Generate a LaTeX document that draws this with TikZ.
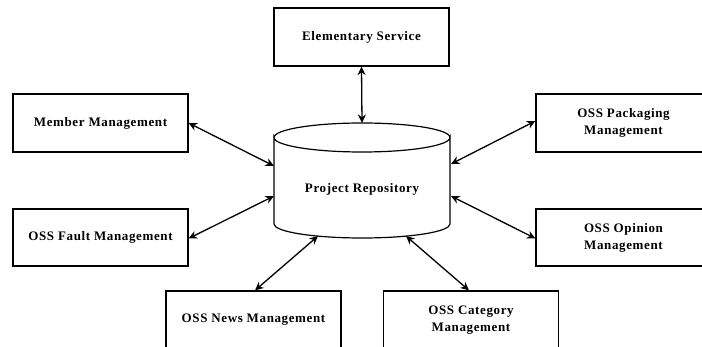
\documentclass[tikz,border=0pt]{standalone}
\usepackage{fontspec}
\setmainfont{Liberation Serif}
\newfontfamily\boxfont[LetterSpace=4.8]{Liberation Serif}
\usetikzlibrary{arrows.meta}
\begin{document}
\begin{tikzpicture}[x=1pt,y=-1pt,
  box/.style={draw, line width=1.2pt, minimum width=175pt, minimum height=58pt, inner sep=0pt,
    align=center, font=\boxfont\fontsize{13}{17}\selectfont\bfseries},
  link/.style={line width=1.3pt, {Stealth[length=8.5pt,width=8pt]}-{Stealth[length=8.5pt,width=8pt]}}]
\useasboundingbox (0,0) rectangle (702,347);
\clip (0,0) rectangle (702,347);
\fill[white] (0,0) rectangle (702,347);
% boxes
\node[box] (es) at (361.5,37) {Elementary Service};
\node[box] (mm) at (100.5,123) {Member Management};
\node[box, minimum height=57pt] (fm) at (100.5,237.5) {OSS Fault Management};
\node[box] (pm) at (623.5,123) {OSS Packaging\\Management};
\node[box, minimum height=57pt] (om) at (623.5,237.5) {OSS Opinion\\Management};
\node[box] (nm) at (253.5,320) {OSS News Management};
\node[box] (cm) at (471,320) {OSS Category\\Management};
% cylinder
\draw[line width=1.2pt, fill=white] (274,137.5) -- (274,224) arc[start angle=180, end angle=0, x radius=88, y radius=14] -- (450,137.5) arc[start angle=0, end angle=180, x radius=88, y radius=14.5] -- cycle;
\draw[line width=1.2pt] (274,137.5) arc[start angle=180, end angle=0, x radius=88, y radius=-14.5];
\node[font=\boxfont\fontsize{13}{17}\selectfont\bfseries] (pr) at (362,189) {Project Repository};
% connection points on the repository
\coordinate (rtop) at (362,123);
\coordinate (rml) at (274,166);
\coordinate (rfl) at (274,196);
\coordinate (rnb) at (318,236);
\coordinate (rcb) at (406,236);
\coordinate (rol) at (451,196);
\coordinate (rpl) at (451,164);
% connectors
\draw[link] (es.south) -- (rtop);
\draw[link] (mm.east) -- (rml);
\draw[link] ([yshift=-1pt]fm.east) -- (rfl);
\draw[link] ([xshift=1.5pt]nm.north) -- (rnb);
\draw[link] ([xshift=-2pt]cm.north) -- (rcb);
\draw[link] ([yshift=-1pt]om.west) -- (rol);
\draw[link] ([yshift=2pt]pm.west) -- (rpl);
\end{tikzpicture}
\end{document}
